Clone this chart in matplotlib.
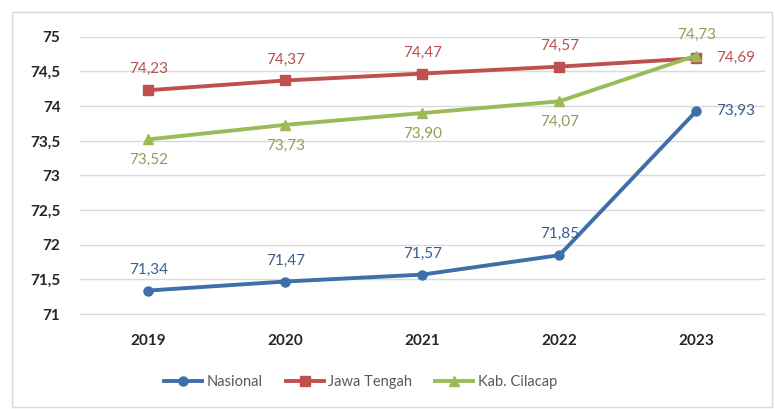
import matplotlib.pyplot as plt
import numpy as np
from matplotlib.patches import Rectangle

years = ["2019", "2020", "2021", "2022", "2023"]
nasional = [71.34, 71.47, 71.57, 71.85, 73.93]
jawa_tengah = [74.23, 74.37, 74.47, 74.57, 74.69]
kab_cilacap = [73.52, 73.73, 73.90, 74.07, 74.73]
y_ticks = [71, 71.5, 72, 72.5, 73, 73.5, 74, 74.5, 75]

SERIES = [
    ("Nasional", nasional, "#3F6FA8", "#3A5E8C", "o"),
    ("Jawa Tengah", jawa_tengah, "#C0504D", "#B5524F", "s"),
    ("Kab. Cilacap", kab_cilacap, "#9BBB59", "#8E9F55", "^"),
]

# label placement per series: "above", "below" or "right", one per year
PLACEMENT = {
    "Nasional": ["above", "above", "above", "above", "right"],
    "Jawa Tengah": ["above", "above", "above", "above", "right"],
    "Kab. Cilacap": ["below", "below", "below", "below", "above"],
}

plt.rcParams["font.family"] = ["Lato", "DejaVu Sans"]


def fmt(v: float) -> str:
    return f"{v:.2f}".replace(".", ",")


fig = plt.figure(figsize=(7.75, 4.09), dpi=100)
fig.patches.append(
    Rectangle((0.016, 0.005), 0.98, 0.965, transform=fig.transFigure,
              fill=False, edgecolor="#D9D9D9", linewidth=1.0)
)
ax = fig.add_axes([0.103, 0.232, 0.884, 0.678])

x = np.arange(len(years))
for name, values, color, text_color, marker in SERIES:
    ax.plot(x, values, color=color, linewidth=2.8, marker=marker,
            markersize=6.5, label=name, zorder=3, clip_on=False)
    for xi, v, where in zip(x, values, PLACEMENT[name]):
        if where == "above":
            offset, ha, va = (0, 10), "center", "bottom"
        elif where == "below":
            offset, ha, va = (0, -10), "center", "top"
        else:
            offset, ha, va = (14, 0), "left", "center"
        ax.annotate(fmt(v), (xi, v), xytext=offset, textcoords="offset points",
                    ha=ha, va=va, fontsize=11, color=text_color)

ax.set_xlim(-0.5, len(years) - 0.5)
ax.set_ylim(y_ticks[0], y_ticks[-1])
ax.tick_params(axis="both", length=0, pad=14)
ax.set_yticks(y_ticks)
ax.set_yticklabels([f"{t:g}".replace(".", ",") for t in y_ticks])
ax.set_xticks(x)
ax.set_xticklabels(years)

ax.grid(axis="y", color="#D9D9D9", linewidth=1.0)
ax.set_axisbelow(True)
for side in ["top", "right", "left"]:
    ax.spines[side].set_visible(False)
ax.spines["bottom"].set_color("#D9D9D9")

fig.legend(loc="center", bbox_to_anchor=(0.465, 0.066), ncol=3, frameon=False,
           fontsize=10.5, handlelength=2.6, columnspacing=1.6, handletextpad=0.3,
           labelcolor="#595959")

fig.canvas.draw()
plt.setp(ax.get_xticklabels() + ax.get_yticklabels(),
         fontweight="bold", fontsize=11, color="#262626")

fig.savefig("out.png", dpi=100)
